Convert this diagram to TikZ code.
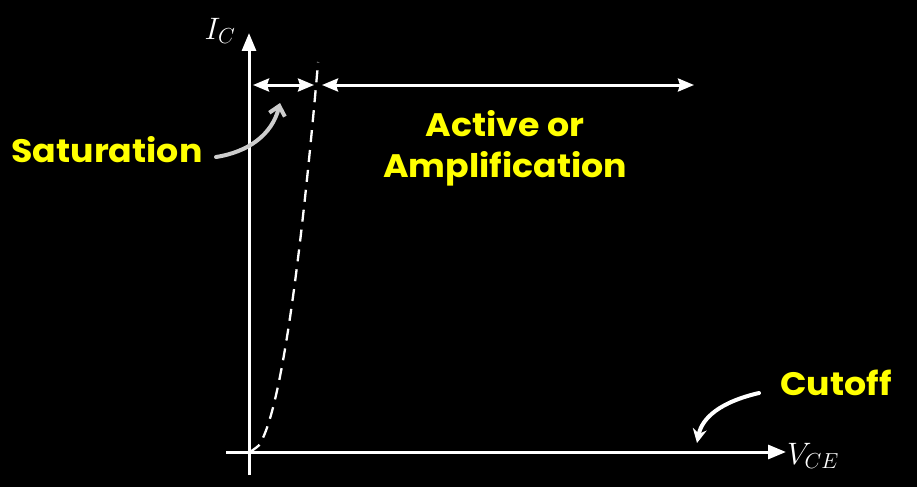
\RequirePackage{fix-cm}
\documentclass[tikz,border=0pt]{standalone}
\usepackage{fontspec}
\setmainfont{Poppins}
\newfontfamily\labfont{Poppins}[FakeStretch=1.07]
\usetikzlibrary{arrows.meta}
\definecolor{labyellow}{RGB}{255,255,0}
\definecolor{chalk}{RGB}{205,205,205}
\tikzset{
  lab/.style={text=labyellow, font=\labfont\fontsize{32.5}{41}\selectfont\bfseries, inner sep=0pt, align=center},
  axislab/.style={text=white, font=\fontsize{31}{36}\selectfont, inner sep=0pt},
  axisline/.style={white, line width=3pt, -{Triangle[length=18pt,width=14pt]}},
  spanarrow/.style={white, line width=3pt, {Stealth[length=16pt,width=13pt,inset=2pt]}-{Stealth[length=16pt,width=13pt,inset=2pt]}},
  pointer/.style={line width=4pt, line cap=round},
}
\begin{document}
\begin{tikzpicture}[x=1pt,y=-1pt]
\fill[black] (0,0) rectangle (917,487);
\useasboundingbox (0,0) rectangle (917,487);
% axes
\coordinate (O) at (249,452);
\coordinate (ytop) at (249,33);
\coordinate (ybot) at (249,475);
\coordinate (xleft) at (226,452);
\coordinate (xright) at (786,452);
\draw[axisline] (ybot) -- (ytop);
\draw[axisline] (xleft) -- (xright);
% dashed curve
\draw[white, line width=2.3pt, dash pattern=on 12pt off 8pt]
  plot[domain=0:390, samples=60, smooth] ({250+3.45*sqrt(\x)}, {452-\x});
% range arrows
\coordinate (s1) at (253,85);
\coordinate (s2) at (314,85);
\coordinate (a1) at (322,85);
\coordinate (a2) at (694,85);
\draw[spanarrow] (s1) -- (s2);
\draw[spanarrow] (a1) -- (a2);
% labels
\node[axislab] (ic) at (220,31) {$I_C$};
\node[axislab] (vce) at (813,456) {$V_{CE}$};
\node[lab] (sat) at (107,150) {Saturation};
\node[lab] (act) at (505,148) {Active or\\Amplification};
\node[lab] (cut) at (836,383) {Cutoff};
% pointer arrows
\coordinate (satstart) at (216,157);
\coordinate (satend) at (280,103);
\draw[pointer, chalk, -{Straight Barb[length=9pt,width=16pt]}]
  (satstart) .. controls (248,152) and (272,135) .. (satend);
\coordinate (cutstart) at (759,393);
\coordinate (cutend) at (697,443);
\draw[pointer, white, -{Stealth[length=14pt,width=14pt]}]
  (cutstart) .. controls (720,402) and (702,418) .. (cutend);
\end{tikzpicture}
\end{document}
